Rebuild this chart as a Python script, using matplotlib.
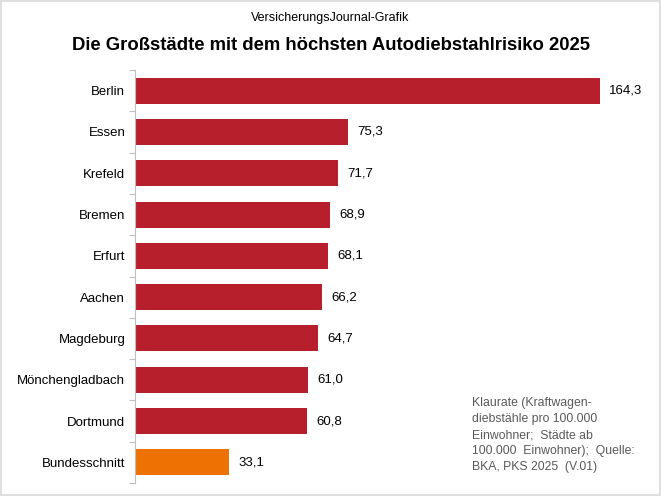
import matplotlib.pyplot as plt
from matplotlib.patches import Rectangle

plt.rcParams['font.family'] = ['Liberation Sans', 'DejaVu Sans']

cities = ['Berlin', 'Essen', 'Krefeld', 'Bremen', 'Erfurt', 'Aachen', 'Magdeburg',
          'Mönchengladbach', 'Dortmund', 'Bundesschnitt']
values = [164.3, 75.3, 71.7, 68.9, 68.1, 66.2, 64.7, 61.0, 60.8, 33.1]
colors = ['#B71F2D'] * 9 + ['#EE7203']

fig = plt.figure(figsize=(6.61, 4.96), dpi=100)
ax = fig.add_axes([135/661, 1 - 483/496, 512/661, 413/496])

y = list(range(len(cities)))
ax.barh(y, values, height=0.63, color=colors)
ax.set_ylim(len(cities) - 0.5, -0.5)
ax.set_xlim(0, 181.0)

# value labels with german decimal comma
for i, v in enumerate(values):
    ax.text(v + 3.3, i, f'{v:.1f}'.replace('.', ','), va='center', ha='left', fontsize=9.5)

ax.set_yticks(y)
ax.set_yticklabels(cities, fontsize=9.5)
ax.tick_params(axis='y', length=0, pad=7)
ax.set_yticks([i - 0.5 for i in range(len(cities) + 1)], minor=True)
ax.tick_params(axis='y', which='minor', length=4, color='#BFBFBF', width=0.8)
ax.set_xticks([])
for s in ['top', 'right', 'bottom']:
    ax.spines[s].set_visible(False)
ax.spines['left'].set_color('#BFBFBF')
ax.spines['left'].set_linewidth(0.8)

fig.text(0.5, 1 - 18/496, 'VersicherungsJournal-Grafik', ha='center', va='center', fontsize=9)
fig.text(0.5, 1 - 45/496, 'Die Großstädte mit dem höchsten Autodiebstahlrisiko 2025',
         ha='center', va='center', fontsize=13.3, fontweight='bold')

note = ('Klaurate (Kraftwagen-\ndiebstähle pro 100.000\nEinwohner;  Städte ab\n'
        '100.000  Einwohner);  Quelle:\nBKA, PKS 2025  (V.01)')
fig.text(472/661, 1 - 397/496, note, ha='left', va='top', fontsize=8.8,
         color='#595959', linespacing=1.45)

fig.patches.append(Rectangle((0.002, 0.002), 0.996, 0.996, transform=fig.transFigure,
                             fill=False, edgecolor='#D9D9D9', linewidth=1.2))

fig.savefig('out.png', dpi=100)
